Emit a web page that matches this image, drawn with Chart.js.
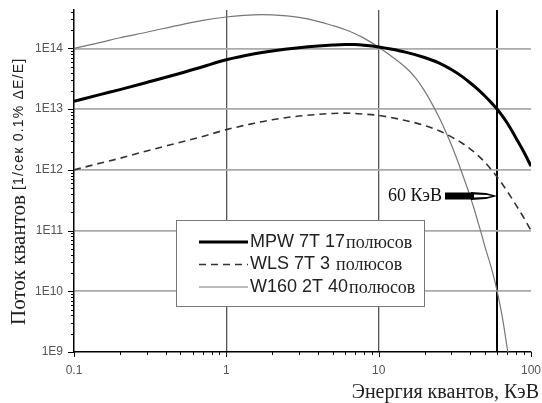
<!DOCTYPE html>
<html><head><meta charset="utf-8">
<script src="https://cdn.jsdelivr.net/npm/chart.js@4/dist/chart.umd.min.js"></script>
<style>html,body{margin:0;padding:0;background:#fff}canvas{display:block}</style>
</head><body>
<canvas id="c" width="542" height="403"></canvas>
<script>
// ---- data ----
const energyA = [0.1,0.15,0.2,0.3,0.5,0.7,1,1.5,2,3,4,5,6,7,8,10,12,15,20,25,30,35,40,45,50,55,60,65,70,80,90,100];
const fluxMPW = [1.35e13,1.75e13,2.1e13,2.75e13,3.9e13,5.0e13,6.5e13,8.1e13,9.1e13,1.03e14,1.1e14,1.14e14,1.16e14,1.16e14,1.13e14,1.06e14,9.8e13,8.7e13,7.1e13,5.75e13,4.5e13,3.5e13,2.7e13,2.1e13,1.63e13,1.27e13,1.0e13,7.7e12,5.85e12,3.3e12,1.95e12,1.15e12];
const fluxWLS = [1.0e12,1.3e12,1.55e12,2.05e12,2.85e12,3.55e12,4.6e12,5.8e12,6.7e12,7.7e12,8.2e12,8.5e12,8.6e12,8.5e12,8.3e12,7.9e12,7.3e12,6.5e12,5.4e12,4.4e12,3.5e12,2.8e12,2.2e12,1.72e12,1.32e12,1.0e12,7.6e11,5.8e11,4.4e11,2.6e11,1.6e11,1.0e11];
const energyW = [0.1,0.15,0.2,0.3,0.5,0.7,1,1.3,1.7,2,2.5,3,4,5,6,7,8,10,12,15,17.5,20,22.5,25,27.5,30,32.5,35,37.5,40,42.5,45,47.5,50,55,60,65,70,72];
const fluxW160 = [1.0e14,1.26e14,1.5e14,1.85e14,2.45e14,2.9e14,3.3e14,3.5e14,3.6e14,3.58e14,3.45e14,3.25e14,2.8e14,2.38e14,2.05e14,1.75e14,1.48e14,1.05e14,7.6e13,4.9e13,3.25e13,2.0e13,1.2e13,7.2e12,4.3e12,2.6e12,1.55e12,9.3e11,5.75e11,3.55e11,2.2e11,1.35e11,8.4e10,5.3e10,2.4e10,1.0e10,3.6e9,1.1e9,7.0e8];

const xTickValues = [0.1,1,10,100];
const xTickLabels = ['0.1','1','10','100'];
const yTickValues = [1e9,1e10,1e11,1e12,1e13,1e14];
const yTickLabels = ['1E9','1E10','1E11','1E12','1E13','1E14'];
const markerEnergy = 60;
const markerLabel = '60 КэВ';
const legendNames = ['MPW 7T 17','WLS 7T 3 ','W160 2T 40'];
const legendUnit = 'полюсов';
const xTitle = 'Энергия квантов, КэВ';
const yTitleMain = 'Поток квантов';
const yTitleUnit = '[1/сек 0.1% ΔE/E]';

const SANS = 'Liberation Sans, Arial, sans-serif';
const SERIF = 'Liberation Serif, Times New Roman, serif';

const pts = (xs, ys) => xs.map((x, i) => ({x: x, y: ys[i]}));

const decor = {
  id: 'decor',
  afterDraw(chart) {
    const {ctx, chartArea: a, scales: {x, y}} = chart;
    ctx.save();
    // axis tick marks
    ctx.strokeStyle = '#000';
    ctx.lineWidth = 1;
    ctx.beginPath();
    for (let d = 9; d <= 14; d++) {
      for (let m = 1; m <= 9; m++) {
        const v = m * Math.pow(10, d);
        if (v > y.max * 1.001) continue;
        const py = Math.round(y.getPixelForValue(v)) + 0.5;
        const len = m === 1 ? 6 : 3;
        ctx.moveTo(a.left - len, py); ctx.lineTo(a.left, py);
      }
    }
    for (let d = -1; d <= 2; d++) {
      for (let m = 1; m <= 9; m++) {
        const v = m * Math.pow(10, d);
        if (v > x.max * 1.001) continue;
        const px = Math.round(x.getPixelForValue(v)) + 0.5;
        const len = m === 1 ? 5 : 3;
        ctx.moveTo(px, a.bottom); ctx.lineTo(px, a.bottom + len);
      }
    }
    ctx.stroke();

    // legend box
    const ds = chart.data.datasets;
    const bx = 176, by = 220, bw = 249, bh = 87;
    ctx.fillStyle = '#fff';
    ctx.fillRect(bx, by, bw, bh);
    ctx.strokeStyle = '#777';
    ctx.lineWidth = 1;
    ctx.strokeRect(bx + 0.5, by + 0.5, bw - 1, bh - 1);
    const rows = [242, 264.5, 287];
    ctx.textBaseline = 'middle';
    ctx.textAlign = 'left';
    ds.forEach((d, i) => {
      const ry = rows[i];
      ctx.save();
      ctx.strokeStyle = d.borderColor;
      ctx.lineWidth = d.borderWidth;
      ctx.setLineDash(d.borderDash || []);
      ctx.beginPath();
      ctx.moveTo(199, ry); ctx.lineTo(248, ry);
      ctx.stroke();
      ctx.restore();
      ctx.fillStyle = '#222';
      ctx.font = '18px ' + SANS;
      ctx.fillText(legendNames[i], 250, ry);
      const w = ctx.measureText(legendNames[i]).width;
      ctx.font = '18px ' + SERIF;
      ctx.fillText(legendUnit, 250 + w + 1, ry + 1);
    });

    // 60 keV annotation
    const mx = x.getPixelForValue(markerEnergy);
    const ay = 196;
    ctx.fillStyle = '#111';
    ctx.font = '18px ' + SERIF;
    ctx.textAlign = 'right';
    ctx.fillText(markerLabel, 442, ay);
    ctx.fillStyle = '#000';
    ctx.fillRect(445, ay - 3.5, 28, 7);
    ctx.beginPath();
    ctx.moveTo(471, ay - 4); ctx.lineTo(486, ay - 3); ctx.lineTo(mx, ay); ctx.lineTo(486, ay + 3); ctx.lineTo(471, ay + 4);
    ctx.closePath();
    ctx.fill();
    ctx.fillStyle = '#fff';
    ctx.beginPath();
    ctx.moveTo(474, ay - 1.5); ctx.lineTo(487, ay - 1); ctx.lineTo(492, ay); ctx.lineTo(487, ay + 1); ctx.lineTo(474, ay + 1.5);
    ctx.closePath();
    ctx.fill();

    // x title
    ctx.fillStyle = '#222';
    ctx.textAlign = 'right';
    ctx.font = '20px ' + SERIF;
    ctx.fillText(xTitle, 539, 393);

    // y title (rotated)
    ctx.save();
    ctx.translate(19, 325);
    ctx.rotate(-Math.PI / 2);
    ctx.textAlign = 'left';
    ctx.font = '21px ' + SERIF;
    ctx.fillText(yTitleMain, 0, 0);
    const mw = ctx.measureText(yTitleMain).width;
    ctx.font = '14px ' + SANS;
    ctx.letterSpacing = '1.2px';
    ctx.fillText(yTitleUnit, mw + 5, 0);
    ctx.restore();

    ctx.restore();
  }
};

new Chart(document.getElementById('c').getContext('2d'), {
  type: 'line',
  data: {
    datasets: [
      {label: legendNames[0] + legendUnit, data: pts(energyA, fluxMPW), borderColor: '#000', borderWidth: 3, pointRadius: 0, cubicInterpolationMode: 'monotone', fill: false},
      {label: legendNames[1] + legendUnit, data: pts(energyA, fluxWLS), borderColor: '#333', borderWidth: 1.6, borderDash: [7, 5], pointRadius: 0, cubicInterpolationMode: 'monotone', fill: false},
      {label: legendNames[2] + legendUnit, data: pts(energyW, fluxW160), borderColor: '#777', borderWidth: 1.2, pointRadius: 0, cubicInterpolationMode: 'monotone', fill: false}
    ]
  },
  options: {
    responsive: false,
    animation: false,
    devicePixelRatio: 1,
    layout: {padding: {top: 10, right: 11, left: 0, bottom: 0}},
    plugins: {legend: {display: false}, tooltip: {enabled: false}},
    scales: {
      x: {
        type: 'logarithmic', min: 0.1, max: 100,
        afterBuildTicks: s => { s.ticks = xTickValues.concat([markerEnergy]).sort((p, q) => p - q).map(v => ({value: v})); },
        afterFit: s => { s.height = 51; s.paddingLeft = 0; s.paddingRight = 0; },
        ticks: {autoSkip: false, maxRotation: 0, padding: 11, color: '#555', font: {family: SANS, size: 12},
          callback: v => { const i = xTickValues.indexOf(v); return i >= 0 ? xTickLabels[i] : ''; }},
        grid: {drawTicks: false,
          color: c => { const v = c.tick && c.tick.value; if (v === markerEnergy) return '#000'; if (v === 1 || v === 10) return '#555'; return 'rgba(0,0,0,0)'; },
          lineWidth: c => { const v = c.tick && c.tick.value; return v === markerEnergy ? 2 : 1.3; }},
        border: {color: '#000', width: 1.5}
      },
      y: {
        type: 'logarithmic', min: 1e9, max: 4.3e14,
        afterBuildTicks: s => { s.ticks = yTickValues.map(v => ({value: v})); },
        afterFit: s => { s.width = 74; s.paddingTop = 0; s.paddingBottom = 0; },
        ticks: {autoSkip: false, padding: 11, color: '#555', font: {family: SANS, size: 12},
          callback: v => { const i = yTickValues.indexOf(v); return i >= 0 ? yTickLabels[i] : ''; }},
        grid: {drawTicks: false,
          color: c => { const v = c.tick && c.tick.value; return v === 1e9 ? 'rgba(0,0,0,0)' : '#aaa'; },
          lineWidth: 1.8},
        border: {color: '#000', width: 1.5}
      }
    }
  },
  plugins: [decor]
});
</script>
</body></html>
